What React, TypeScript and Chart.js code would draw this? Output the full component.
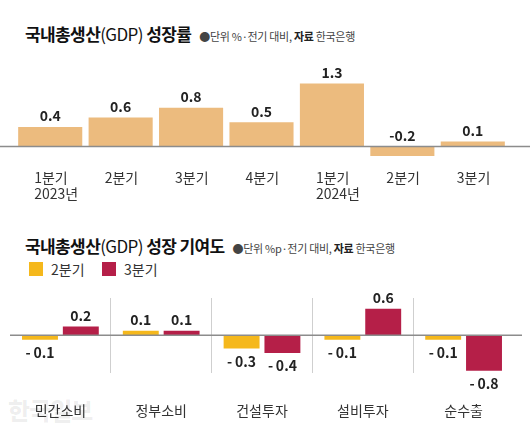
import React, { useEffect, useRef } from "react";
import { Chart, registerables } from "chart.js";

Chart.register(...registerables);

const FONT = "'Noto Sans CJK KR', 'Noto Sans', sans-serif";

// Chart 1: GDP growth rate (%, q/q)
const gdpQuarters: string[][] = [
  ["1분기", "2023년"],
  ["2분기"],
  ["3분기"],
  ["4분기"],
  ["1분기", "2024년"],
  ["2분기"],
  ["3분기"],
];
const gdpGrowth = [0.4, 0.6, 0.8, 0.5, 1.3, -0.2, 0.1];

// Chart 2: contribution to growth (%p)
const contribCategories = ["민간소비", "정부소비", "건설투자", "설비투자", "순수출"];
const seriesLabels = ["2분기", "3분기"];
const contribQ2 = [-0.1, 0.1, -0.3, -0.1, -0.1];
const contribQ3 = [0.2, 0.1, -0.4, 0.6, -0.8];

const GDP_COLOR = "#ECBB7E";
const Q2_COLOR = "#F5B81C";
const Q3_COLOR = "#B51F48";

function fmt1(v: number) {
  return v.toFixed(1);
}
function fmt2(v: number) {
  return v < 0 ? "-\u2009" + Math.abs(v).toFixed(1) : v.toFixed(1);
}

const growthPlugin = {
  id: "growthDecor",
  afterDatasetsDraw(chart: any) {
    const { ctx, scales } = chart;
    const y0 = scales.y.getPixelForValue(0);
    ctx.save();
    ctx.strokeStyle = "#8c8c8c";
    ctx.lineWidth = 1.5;
    ctx.beginPath();
    ctx.moveTo(0, y0);
    ctx.lineTo(chart.width, y0);
    ctx.stroke();
    ctx.fillStyle = "#222";
    ctx.font = `600 14px ${FONT}`;
    ctx.textAlign = "center";
    ctx.textBaseline = "bottom";
    const meta = chart.getDatasetMeta(0);
    chart.data.datasets[0].data.forEach((v: number, i: number) => {
      const el = meta.data[i];
      const top = scales.y.getPixelForValue(Math.max(v, 0));
      ctx.fillText(fmt1(v), el.x, top - 4);
    });
    ctx.restore();
  },
};

const contribPlugin = {
  id: "contribDecor",
  afterDatasetsDraw(chart: any) {
    const { ctx, scales, chartArea } = chart;
    const y0 = scales.y.getPixelForValue(0);
    ctx.save();
    ctx.strokeStyle = "#8c8c8c";
    ctx.lineWidth = 1.5;
    ctx.beginPath();
    ctx.moveTo(chartArea.left, y0);
    ctx.lineTo(chartArea.right + 8, y0);
    ctx.stroke();
    ctx.fillStyle = "#222";
    ctx.font = `600 14px ${FONT}`;
    ctx.textAlign = "center";
    chart.data.datasets.forEach((ds: any, di: number) => {
      const meta = chart.getDatasetMeta(di);
      ds.data.forEach((v: number, i: number) => {
        const el = meta.data[i];
        const py = scales.y.getPixelForValue(v);
        if (v >= 0) {
          ctx.textBaseline = "bottom";
          ctx.fillText(fmt2(v), el.x, py - 4);
        } else {
          ctx.textBaseline = "top";
          ctx.fillText(fmt2(v), el.x, py + 6);
        }
      });
    });
    ctx.restore();
  },
};

function GrowthChart() {
  const ref = useRef<HTMLCanvasElement | null>(null);
  useEffect(() => {
    if (!ref.current) return;
    const chart = new Chart(ref.current, {
      type: "bar",
      data: {
        labels: gdpQuarters,
        datasets: [
          {
            data: gdpGrowth,
            backgroundColor: GDP_COLOR,
            borderWidth: 0,
            barPercentage: 0.91,
            categoryPercentage: 1,
          },
        ],
      },
      options: {
        animation: false,
        responsive: true,
        maintainAspectRatio: false,
        layout: { padding: { left: 15, right: 22, top: 14, bottom: 1 } },
        plugins: { legend: { display: false }, tooltip: { enabled: false } },
        scales: {
          x: {
            grid: { display: false, drawTicks: false },
            border: { display: false },
            ticks: {
              font: { family: FONT, size: 14, lineHeight: 1.15 },
              color: "#333",
              padding: 4,
              align: "start",
              labelOffset: -16,
              maxRotation: 0,
              autoSkip: false,
            },
          },
          y: { display: false, min: -0.4, max: 1.6 },
        },
      },
      plugins: [growthPlugin],
    } as any);
    return () => chart.destroy();
  }, []);
  return (
    <div style={{ position: "absolute", left: 0, top: 55, width: 530, height: 152 }}>
      <canvas ref={ref} />
    </div>
  );
}

function ContribChart() {
  const ref = useRef<HTMLCanvasElement | null>(null);
  useEffect(() => {
    if (!ref.current) return;
    const n = contribCategories.length;
    const chart = new Chart(ref.current, {
      type: "bar",
      data: {
        labels: contribCategories,
        datasets: [
          {
            label: seriesLabels[0],
            data: contribQ2,
            backgroundColor: Q2_COLOR,
            borderWidth: 0,
            barPercentage: 0.88,
            categoryPercentage: 0.81,
          },
          {
            label: seriesLabels[1],
            data: contribQ3,
            backgroundColor: Q3_COLOR,
            borderWidth: 0,
            barPercentage: 0.88,
            categoryPercentage: 0.81,
          },
        ],
      },
      options: {
        animation: false,
        responsive: true,
        maintainAspectRatio: false,
        layout: { padding: { left: 10, right: 16, top: 13, bottom: 0 } },
        plugins: { legend: { display: false }, tooltip: { enabled: false } },
        scales: {
          x: {
            offset: true,
            grid: {
              display: true,
              drawTicks: false,
              offset: true,
              lineWidth: 1,
              color: (c: any) =>
                typeof c.index === "number" && c.index > 0 && c.index < n ? "#cfcfcf" : "rgba(0,0,0,0)",
            },
            border: { display: false },
            ticks: {
              font: { family: FONT, size: 14, lineHeight: 1.15 },
              color: "#333",
              padding: 30,
              maxRotation: 0,
              autoSkip: false,
            },
          },
          y: { display: false, min: -0.84, max: 0.84 },
        },
      },
      plugins: [contribPlugin],
    } as any);
    return () => chart.destroy();
  }, []);
  return (
    <div style={{ position: "absolute", left: 0, top: 285, width: 530, height: 162 }}>
      <canvas ref={ref} />
    </div>
  );
}

const titleStyle: React.CSSProperties = {
  fontFamily: FONT,
  fontWeight: 700,
  fontSize: 17,
  letterSpacing: -0.6,
  color: "#111",
};
const subStyle: React.CSSProperties = {
  fontFamily: FONT,
  fontSize: 11,
  letterSpacing: -0.3,
  color: "#444",
};

function Header({ pre, post, unit, top }: { pre: string; post: string; unit: string; top: number }) {
  return (
    <div
      style={{
        position: "absolute",
        left: 25,
        top,
        display: "flex",
        alignItems: "baseline",
        gap: 8,
        whiteSpace: "nowrap",
        lineHeight: "20px",
      }}
    >
      <span style={titleStyle}>
        {pre}
        <span style={{ fontWeight: 400 }}>(GDP)</span>
        {post}
      </span>
      <span style={subStyle}>
        ●단위 {unit}·전기 대비, <b style={{ color: "#222" }}>자료</b> 한국은행
      </span>
    </div>
  );
}

function Legend() {
  const items = [
    { label: seriesLabels[0], color: Q2_COLOR, left: 29 },
    { label: seriesLabels[1], color: Q3_COLOR, left: 102 },
  ];
  return (
    <>
      {items.map((it) => (
        <div
          key={it.label}
          style={{
            position: "absolute",
            left: it.left,
            top: 262,
            display: "flex",
            alignItems: "center",
            gap: 8,
            fontFamily: FONT,
            fontSize: 14,
            color: "#333",
            lineHeight: "14px",
          }}
        >
          <span style={{ display: "inline-block", width: 14, height: 14, background: it.color }} />
          <span>{it.label}</span>
        </div>
      ))}
    </>
  );
}

export default function App() {
  return (
    <div
      style={{
        position: "fixed",
        left: 0,
        top: 0,
        width: 530,
        height: 424,
        overflow: "hidden",
        background: "#fff",
      }}
    >
      <Header pre="국내총생산" post=" 성장률" unit="%" top={24} />
      <GrowthChart />
      <Header pre="국내총생산" post=" 성장 기여도" unit="%p" top={236} />
      <Legend />
      <div
        style={{
          position: "absolute",
          left: 8,
          top: 392,
          fontFamily: FONT,
          fontWeight: 900,
          fontSize: 24,
          color: "rgba(0,0,0,0.07)",
          letterSpacing: -1,
        }}
      >
        한국일보
      </div>
      <ContribChart />
    </div>
  );
}
